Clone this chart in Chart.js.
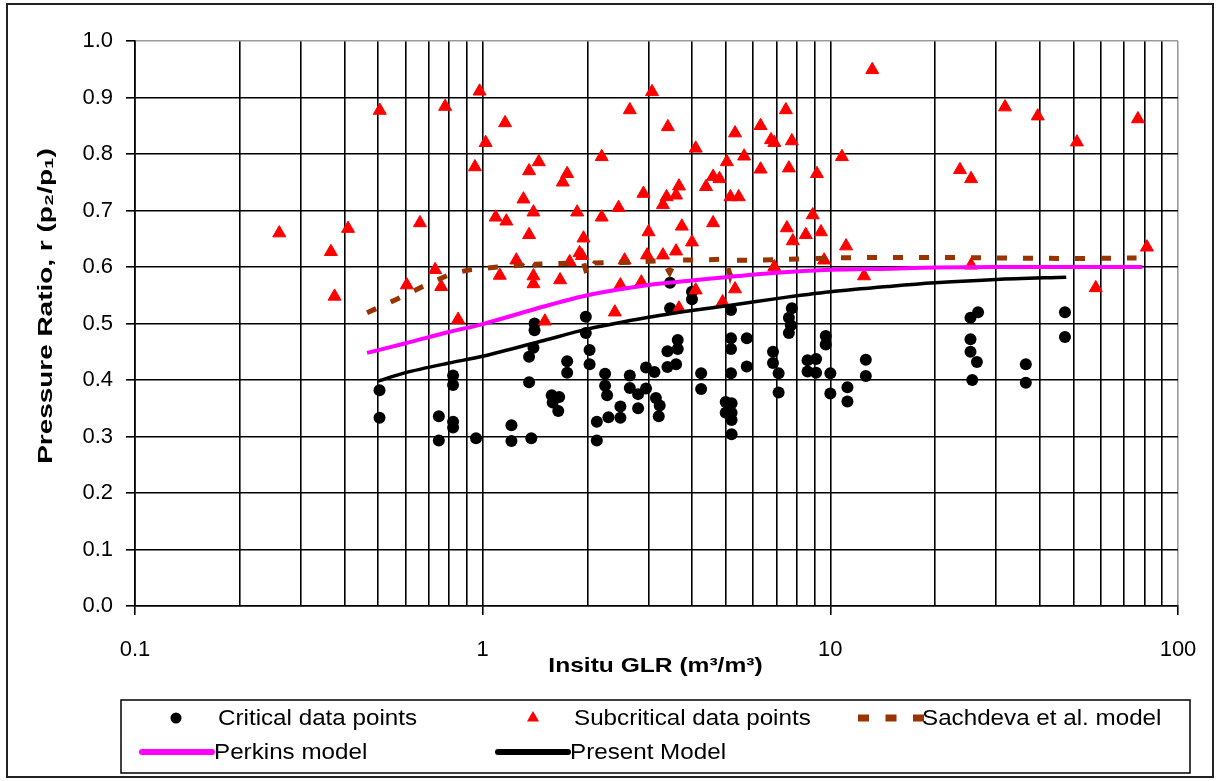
<!DOCTYPE html>
<html>
<head>
<meta charset="utf-8">
<title>Pressure ratio vs insitu GLR</title>
<script src="https://cdn.jsdelivr.net/npm/chart.js@4.4.1/dist/chart.umd.min.js"></script>
<style>
  html, body { margin: 0; padding: 0; background: #fff; }
  canvas { display: block; }
</style>
</head>
<body>
<canvas id="chart" width="1219" height="781"></canvas>
<script>
// Critical flow measurements: insitu GLR (m3/m3) and pressure ratio p2/p1
const criticalGLR = [
  0.505, 0.505, 0.748, 0.748, 0.822, 0.822, 0.822, 0.822, 0.957, 1.21,
  1.21, 1.38, 1.36, 1.36, 1.40, 1.41, 1.41, 1.75, 1.75, 1.58,
  1.66, 1.59, 1.65, 1.98, 1.98, 2.03, 2.03, 2.25, 2.25, 2.28,
  2.13, 2.13, 2.30, 2.49, 2.49, 2.65, 2.65, 2.80, 2.80, 2.95,
  3.12, 2.95, 3.15, 3.23, 3.21, 3.46, 3.46, 4.00, 4.00, 3.64,
  3.64, 3.40, 3.60, 3.40, 4.25, 4.25, 5.18, 5.18, 5.18, 5.75,
  5.75, 5.18, 5.00, 5.20, 5.00, 5.20, 5.20, 5.20, 6.84, 6.84,
  7.10, 7.10, 7.75, 7.60, 7.70, 7.60, 8.60, 9.10, 8.60, 9.10,
  9.70, 9.70, 10.0, 10.0, 11.2, 11.2, 12.65, 12.65, 26.6, 25.3,
  25.3, 25.3, 26.4, 25.6, 36.5, 36.5, 47.3, 47.3
];
const criticalRatio = [
  0.382, 0.333, 0.336, 0.293, 0.408, 0.391, 0.326, 0.316, 0.297, 0.320,
  0.292, 0.297, 0.396, 0.441, 0.457, 0.488, 0.500, 0.433, 0.413, 0.373,
  0.370, 0.360, 0.345, 0.512, 0.483, 0.453, 0.428, 0.411, 0.390, 0.373,
  0.326, 0.293, 0.334, 0.353, 0.333, 0.408, 0.386, 0.375, 0.350, 0.422,
  0.414, 0.385, 0.368, 0.355, 0.336, 0.572, 0.527, 0.556, 0.543, 0.471,
  0.455, 0.451, 0.428, 0.423, 0.412, 0.384, 0.524, 0.474, 0.455, 0.474,
  0.424, 0.412, 0.361, 0.359, 0.342, 0.342, 0.329, 0.304, 0.450, 0.430,
  0.412, 0.378, 0.527, 0.510, 0.497, 0.483, 0.435, 0.437, 0.415, 0.413,
  0.478, 0.463, 0.412, 0.376, 0.387, 0.362, 0.436, 0.407, 0.520, 0.510,
  0.472, 0.450, 0.432, 0.400, 0.428, 0.395, 0.520, 0.476
];

// Subcritical flow measurements
const subcriticalGLR = [
  0.26, 0.366, 0.375, 0.41, 0.506, 0.605, 0.66, 0.73, 0.76, 0.78,
  0.85, 0.95, 0.98, 1.02, 1.09, 1.12, 1.16, 1.17, 1.25, 1.31,
  1.36, 1.36, 1.40, 1.40, 1.40, 1.45, 1.51, 1.67, 1.70, 1.75,
  1.78, 1.87, 1.90, 1.93, 1.95, 2.20, 2.20, 2.40, 2.46, 2.49,
  2.56, 2.65, 2.86, 2.90, 2.97, 3.00, 3.07, 3.30, 3.30, 3.38,
  3.41, 3.60, 3.60, 3.67, 3.67, 3.74, 4.00, 4.10, 4.10, 4.39,
  4.60, 4.60, 4.80, 4.90, 5.04, 5.16, 5.32, 5.32, 5.45, 5.65,
  6.30, 6.30, 6.75, 6.90, 6.90, 7.45, 7.50, 7.60, 7.75, 7.80,
  8.50, 8.90, 9.15, 9.40, 9.60, 10.8, 11.1, 12.5, 13.2, 23.6,
  25.4, 25.4, 31.8, 39.5, 51.2, 58.0, 76.7, 81.4
];
const subcriticalRatio = [
  0.660, 0.627, 0.548, 0.668, 0.877, 0.568, 0.678, 0.595, 0.565, 0.884,
  0.507, 0.777, 0.911, 0.820, 0.688, 0.585, 0.855, 0.681, 0.612, 0.720,
  0.770, 0.657, 0.697, 0.584, 0.570, 0.786, 0.504, 0.577, 0.750, 0.765,
  0.609, 0.697, 0.625, 0.620, 0.651, 0.795, 0.688, 0.520, 0.705, 0.568,
  0.612, 0.878, 0.573, 0.730, 0.621, 0.662, 0.910, 0.710, 0.621, 0.724,
  0.848, 0.727, 0.628, 0.743, 0.527, 0.672, 0.644, 0.810, 0.559, 0.742,
  0.760, 0.678, 0.756, 0.538, 0.786, 0.724, 0.837, 0.561, 0.724, 0.796,
  0.850, 0.773, 0.825, 0.820, 0.600, 0.878, 0.669, 0.775, 0.823, 0.646,
  0.657, 0.692, 0.765, 0.662, 0.612, 0.795, 0.637, 0.584, 0.949, 0.772,
  0.756, 0.603, 0.883, 0.867, 0.821, 0.563, 0.862, 0.635
];

// Sachdeva et al. model curve
const sachdevaGLR = [
  0.465, 0.566, 0.67, 0.74, 0.82, 0.92, 1.1, 1.3, 1.36, 1.42,
  1.6, 1.8, 1.95, 2.0, 2.1, 2.5, 3.0, 3.3, 3.45, 3.6,
  4.5, 5.0, 5.15, 5.3, 6.0, 7.0, 8.0, 10, 15, 20,
  30, 50, 76
];
const sachdevaRatio = [
  0.519, 0.543, 0.565, 0.577, 0.589, 0.595, 0.600, 0.603, 0.590, 0.605,
  0.606, 0.607, 0.608, 0.585, 0.607, 0.608, 0.610, 0.611, 0.590, 0.612,
  0.613, 0.614, 0.585, 0.612, 0.612, 0.613, 0.614, 0.616, 0.617, 0.617,
  0.616, 0.615, 0.616
];

// Perkins model curve
const perkinsGLR = [0.465, 0.6, 0.8, 1, 1.5, 2, 3, 4, 5, 7, 10, 15, 20, 30, 50, 79];
const perkinsRatio = [0.448, 0.465, 0.485, 0.499, 0.530, 0.550, 0.568, 0.576, 0.582, 0.590, 0.595, 0.597, 0.599, 0.600, 0.600, 0.600];

// Present model curve
const presentGLR = [0.5, 0.6, 0.8, 1, 1.5, 2, 3, 4, 5, 7, 10, 15, 20, 30, 47.7];
const presentRatio = [0.398, 0.413, 0.430, 0.442, 0.470, 0.490, 0.511, 0.523, 0.531, 0.544, 0.556, 0.566, 0.572, 0.578, 0.582];

// Axis ticks
const glrTicks = [0.1, 0.2, 0.3, 0.4, 0.5, 0.6, 0.7, 0.8, 0.9,
                  1, 2, 3, 4, 5, 6, 7, 8, 9,
                  10, 20, 30, 40, 50, 60, 70, 80, 90, 100];
const glrLabelled = [0.1, 1, 10, 100];

const pairs = (xs, ys) => xs.map((x, i) => ({ x: x, y: ys[i] }));

const FONT = "'Liberation Sans', Arial, sans-serif";
const BROWN = '#993300';
const MAGENTA = '#ff00ff';
const RED = '#ff0000';

const series = [
  { label: 'Critical data points', type: 'scatter', data: pairs(criticalGLR, criticalRatio),
    pointStyle: 'circle', pointRadius: 6, backgroundColor: '#000', borderColor: '#000', borderWidth: 0, order: 5, kind: 'circle' },
  { label: 'Subcritical data points', type: 'scatter', data: pairs(subcriticalGLR, subcriticalRatio),
    pointStyle: 'triangle', pointRadius: 7.5, backgroundColor: RED, borderColor: RED, borderWidth: 1, order: 4, kind: 'triangle' },
  { label: 'Sachdeva et al. model', type: 'line', data: pairs(sachdevaGLR, sachdevaRatio),
    borderColor: BROWN, borderWidth: 5, borderDash: [10, 16], pointRadius: 0, tension: 0, fill: false, order: 3, kind: 'dash' },
  { label: 'Perkins model', type: 'line', data: pairs(perkinsGLR, perkinsRatio),
    borderColor: MAGENTA, borderWidth: 4, pointRadius: 0, tension: 0.3, fill: false, order: 2, kind: 'line' },
  { label: 'Present Model', type: 'line', data: pairs(presentGLR, presentRatio),
    borderColor: '#000', borderWidth: 3.5, pointRadius: 0, tension: 0.3, fill: false, order: 1, kind: 'line' }
];

// Draws text stretched horizontally by sx around its left edge or centre
function wideText(ctx, text, x, y, sx, align) {
  ctx.save();
  ctx.translate(x, y);
  ctx.scale(sx, 1);
  ctx.textAlign = align;
  ctx.fillText(text, 0, 0);
  ctx.restore();
}

// Frame, axis titles and the boxed legend below the plot
const decorations = {
  id: 'decorations',
  beforeDraw(chart) {
    const ctx = chart.ctx;
    ctx.save();
    ctx.fillStyle = '#fff';
    ctx.fillRect(0, 0, chart.width, chart.height);
    ctx.restore();
  },
  afterDraw(chart) {
    const ctx = chart.ctx;
    const area = chart.chartArea;
    ctx.save();

    // outer frame
    ctx.strokeStyle = '#222';
    ctx.lineWidth = 2;
    ctx.strokeRect(7, 4, 1206, 773);

    // axis titles
    ctx.fillStyle = '#000';
    ctx.font = 'bold 21px ' + FONT;
    ctx.textBaseline = 'middle';
    wideText(ctx, 'Insitu GLR (m³/m³)', (area.left + area.right) / 2 - 1, 666, 1.17, 'center');
    ctx.save();
    ctx.translate(46, 306);
    ctx.rotate(-Math.PI / 2);
    wideText(ctx, 'Pressure Ratio, r (p₂/p₁)', 0, 0, 1.33, 'center');
    ctx.restore();

    // legend
    ctx.strokeStyle = '#000';
    ctx.lineWidth = 1.5;
    ctx.strokeRect(121, 700, 1069, 73);
    const slots = [
      { ds: 0, x: 176, y: 718, tx: 218 },
      { ds: 1, x: 533, y: 718, tx: 574 },
      { ds: 2, x: 858, y: 718, tx: 922 },
      { ds: 3, x: 142, y: 752, tx: 214 },
      { ds: 4, x: 498, y: 752, tx: 570 }
    ];
    ctx.font = '22px ' + FONT;
    slots.forEach(s => {
      const d = series[s.ds];
      if (d.kind === 'circle') {
        ctx.fillStyle = '#000';
        ctx.beginPath();
        ctx.arc(s.x, s.y, 5.5, 0, Math.PI * 2);
        ctx.fill();
      } else if (d.kind === 'triangle') {
        const r = 7;
        ctx.fillStyle = RED;
        ctx.beginPath();
        ctx.moveTo(s.x, s.y - r);
        ctx.lineTo(s.x + r * 0.866, s.y + r * 0.5);
        ctx.lineTo(s.x - r * 0.866, s.y + r * 0.5);
        ctx.closePath();
        ctx.fill();
      } else if (d.kind === 'dash') {
        ctx.fillStyle = BROWN;
        for (let i = 0; i < 3; i++) ctx.fillRect(s.x + i * 27.5, s.y - 3.5, 11, 7);
      } else {
        ctx.strokeStyle = d.borderColor;
        ctx.lineWidth = 6;
        ctx.lineCap = 'round';
        ctx.beginPath();
        ctx.moveTo(s.x, s.y);
        ctx.lineTo(s.x + 70, s.y);
        ctx.stroke();
      }
      ctx.fillStyle = '#000';
      wideText(ctx, d.label, s.tx, s.y + 1, 1.1, 'left');
    });
    ctx.restore();
  }
};

new Chart(document.getElementById('chart'), {
  data: { datasets: series },
  options: {
    responsive: false,
    devicePixelRatio: 1,
    animation: false,
    layout: { padding: { left: 0, top: 41, right: 41, bottom: 115 } },
    plugins: { legend: { display: false }, tooltip: { enabled: false } },
    scales: {
      x: {
        type: 'logarithmic',
        min: 0.1,
        max: 100,
        afterBuildTicks(scale) { scale.ticks = glrTicks.map(v => ({ value: v })); },
        afterFit(scale) { scale.height = 60; },
        ticks: {
          autoSkip: false,
          maxRotation: 0,
          padding: 22,
          color: '#000',
          font: { family: FONT, size: 22 },
          callback(value) { return glrLabelled.includes(value) ? String(value) : ''; }
        },
        grid: {
          color: c => (c.tick && c.tick.value === 100 ? '#9a9a9a' : '#000'),
          lineWidth: 1.6,
          tickLength: 9,
          tickColor: c => (c.tick && glrLabelled.includes(c.tick.value) ? '#000' : 'rgba(0,0,0,0)')
        },
        border: { color: '#000', width: 1.6 }
      },
      y: {
        type: 'linear',
        min: 0,
        max: 1,
        afterFit(scale) { scale.width = 135; },
        ticks: {
          stepSize: 0.1,
          padding: 13,
          color: '#000',
          font: { family: FONT, size: 22 },
          callback(value) { return Number(value).toFixed(1); }
        },
        grid: {
          color: c => (c.tick && Math.abs(c.tick.value - 1) < 1e-9 ? '#9a9a9a' : '#000'),
          lineWidth: 1.6,
          tickLength: 9,
          tickColor: '#000'
        },
        border: { color: '#000', width: 1.6 }
      }
    }
  }
  ,
  plugins: [decorations]
});
</script>
</body>
</html>
